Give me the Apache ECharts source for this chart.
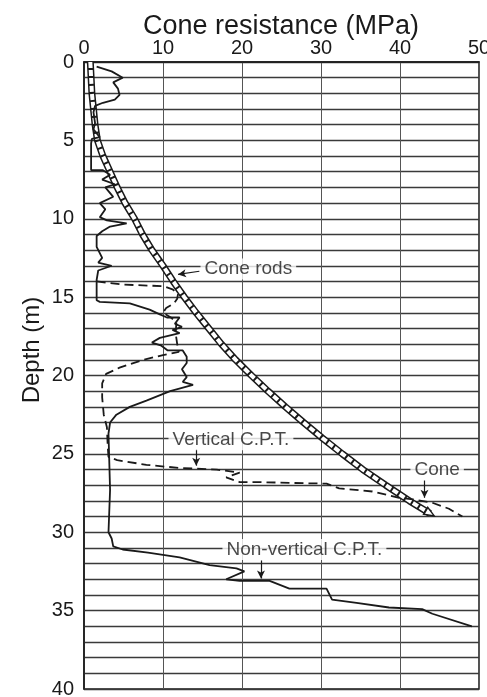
<!DOCTYPE html>
<html>
<head>
<meta charset="utf-8">
<script src="https://cdn.jsdelivr.net/npm/echarts@6/dist/echarts.min.js"></script>
<style>
html,body{margin:0;padding:0;background:#fff;}
#chart{width:487px;height:697px;}
</style>
</head>
<body>
<div id="chart"></div>
<script>
// ---- data: [cone resistance (MPa), depth (m)] ----
var xTicks = [0, 10, 20, 30, 40, 50];
var yTickLabels = [0, 5, 10, 15, 20, 25, 30, 35, 40];

var coneRods = [
  [0.8,0],[1.0,2],[1.4,4],[1.7,5],[2.4,6],[3.3,7],[4.2,8],[5.2,9],[6.4,10],[7.4,11],
  [8.6,12],[10.0,13],[11.3,14],[12.7,15],[14.2,16],[15.8,17],[17.4,18],[19.2,19],
  [21.2,20],[23.3,21],[25.5,22],[27.8,23],[30.2,24],[32.7,25],[35.3,26],[38.2,27],
  [41.2,28],[43.8,28.8]
];

var nonVerticalCPT = [
  [1.6,0.3],[3.5,0.6],[4.9,1.0],[3.7,1.3],[4.3,1.7],[4.5,2.1],[3.9,2.4],[2.4,2.6],[1.4,2.8],
  [1.2,3.2],[1.4,3.9],[1.2,4.3],[2.0,4.8],[1.0,4.9],[0.9,5.2],[0.9,6.9],[2.4,6.9],[3.3,7.2],
  [2.3,7.5],[3.9,7.8],[2.7,8.0],[3.7,8.6],[2.0,9.0],[2.7,9.4],[2.0,9.9],[2.9,10.1],[5.4,10.3],
  [3.3,10.5],[2.3,10.8],[1.6,11.1],[1.6,11.8],[2.3,12.5],[1.8,12.8],[3.5,13.0],[1.8,13.3],
  [1.6,13.9],[1.6,15.2],[2.0,15.3],[5.8,15.4],[8.3,15.8],[9.6,16.1],[10.5,16.3],[12.1,16.3],
  [11.5,16.7],[12.4,16.9],[11.2,17.1],[12.1,17.3],[9.6,17.6],[8.6,17.9],[9.8,18.1],[10.6,18.4],
  [12.5,18.4],[13.0,18.8],[13.0,19.2],[12.4,19.6],[13.0,20.1],[12.5,20.4],[13.8,20.6],
  [10.9,21.0],[7.9,21.6],[5.8,22.0],[4.1,22.5],[3.3,23.0],[3.1,23.7],[3.3,27.3],[3.1,30.0],
  [3.5,30.4],[3.7,30.9],[4.9,31.1],[8.1,31.3],[12.1,31.6],[15.9,32.1],[19.3,32.3],[20.3,32.5],
  [18.0,33.0],[19.7,33.1],[23.5,33.1],[26.0,33.6],[30.7,33.6],[31.4,34.3],[34.5,34.5],
  [38.6,34.8],[42.8,34.9],[44.1,35.2],[49.1,36.0]
];

var verticalCPT = [
  [1.6,14.0],[5.0,14.2],[10.0,14.3],[11.2,14.5],[11.9,14.8],[11.8,15.1],[11.4,15.4],[10.4,15.7],
  [10.0,16.0],[11.0,16.3],[11.7,16.6],[11.6,17.3],[11.8,18.0],[12.0,18.5],[10.0,18.7],[7.5,19.0],
  [4.5,19.5],[2.8,19.9],[2.3,20.5],[2.3,21.4],[2.5,22.5],[2.9,23.3],[3.0,24.5],[3.1,25.2],
  [4.2,25.4],[7.9,25.7],[12.1,25.9],[16.8,26.0],[19.7,26.2],[18.0,26.5],[19.7,26.8],[22.2,26.8],
  [26.0,26.85],[30.7,26.9],[32.3,27.2],[36.5,27.4],[39.9,27.8],[41.6,27.9],[44.0,28.1],
  [46.2,28.5],[47.9,29.0]
];

// annotations: [q, depth, text]
var annotations = [
  [20.8, 13.2, 'Cone rods'],
  [18.6, 24.1, 'Vertical C.P.T.'],
  [44.7, 26.0, 'Cone'],
  [27.9, 31.1, 'Non-vertical C.P.T.']
];
// leader arrows: [q1, d1, q2, d2]
var leaders = [
  [14.6, 13.35, 11.9, 13.55],
  [14.2, 24.7, 14.2, 25.75],
  [43.1, 26.7, 43.1, 27.8],
  [22.4, 31.8, 22.4, 32.95]
];

var FONT = '"Liberation Sans", Arial, Helvetica, sans-serif';
var INK = '#1a1a1a';

var chart = echarts.init(document.getElementById('chart'), null, {renderer: 'canvas'});

var rodData = coneRods.map(function (p, i) {
  if (i === coneRods.length - 1) {
    return {value: p, symbol: 'triangle', symbolSize: [8, 10], symbolRotate: -121,
      itemStyle: {color: '#fff', borderColor: INK, borderWidth: 1.5}};
  }
  return {value: p};
});

var option = {
  backgroundColor: '#fff',
  animation: false,
  title: {
    text: 'Cone resistance (MPa)',
    left: 138, top: 8,
    textStyle: {fontFamily: FONT, fontSize: 27, fontWeight: 'normal', color: INK}
  },
  graphic: [{
    type: 'text', x: 32, y: 350, rotation: Math.PI / 2,
    style: {text: 'Depth (m)', font: '24px ' + FONT, fill: INK, textAlign: 'center', textVerticalAlign: 'middle'}
  }],
  grid: {left: 84, top: 62, right: 8, bottom: 8, outerBoundsMode: 'none', containLabel: false,
    show: true, borderColor: INK, borderWidth: 1.5, backgroundColor: 'transparent'},
  xAxis: {
    type: 'value', position: 'top', min: 0, max: 50, interval: 10,
    axisLine: {show: true, lineStyle: {color: INK, width: 1.5}},
    axisTick: {show: false},
    axisLabel: {fontFamily: FONT, fontSize: 20, color: INK, margin: 4,
      formatter: function (v) { return xTicks.indexOf(v) >= 0 ? String(v) : ''; }},
    splitLine: {show: true, lineStyle: {color: '#555', width: 1}}
  },
  yAxis: {
    type: 'value', inverse: true, min: 0, max: 40, interval: 1,
    axisLine: {show: true, lineStyle: {color: INK, width: 1.5}},
    axisTick: {show: false},
    axisLabel: {fontFamily: FONT, fontSize: 20, color: INK, margin: 10,
      formatter: function (v) { return yTickLabels.indexOf(v) >= 0 ? String(v) : ''; }},
    splitLine: {show: true, lineStyle: {color: '#3a3a3a', width: 1.3}}
  },
  series: [
    {
      name: 'Cone rods outer', type: 'line', data: coneRods, symbol: 'none', silent: true,
      lineStyle: {color: INK, width: 7}, z: 3
    },
    {
      name: 'Cone rods', type: 'line', data: rodData, symbol: 'none', showSymbol: true, silent: true,
      lineStyle: {color: '#fff', width: 4, type: [6, 2]}, z: 4
    },
    {
      name: 'Vertical C.P.T.', type: 'line', data: verticalCPT, symbol: 'none', silent: true,
      lineStyle: {color: INK, width: 1.8, type: [9, 5]}, z: 5
    },
    {
      name: 'Non-vertical C.P.T.', type: 'line', data: nonVerticalCPT, symbol: 'none', silent: true,
      lineStyle: {color: INK, width: 1.8}, z: 6
    },
    {
      name: 'labels', type: 'scatter', symbolSize: 0, silent: true, z: 10,
      data: annotations.map(function (a) { return {value: [a[0], a[1]], name: a[2]}; }),
      label: {
        show: true, position: 'inside', formatter: '{b}',
        fontFamily: FONT, fontSize: 19, color: INK,
        backgroundColor: '#fff', padding: [1, 4]
      },
      markLine: {
        silent: true, symbol: ['none', 'arrow'], symbolSize: [6, 8],
        label: {show: false},
        lineStyle: {color: INK, width: 1.2, type: 'solid'},
        data: leaders.map(function (l) { return [{coord: [l[0], l[1]]}, {coord: [l[2], l[3]]}]; })
      }
    }
  ]
};
chart.setOption(option);
</script>
</body>
</html>
